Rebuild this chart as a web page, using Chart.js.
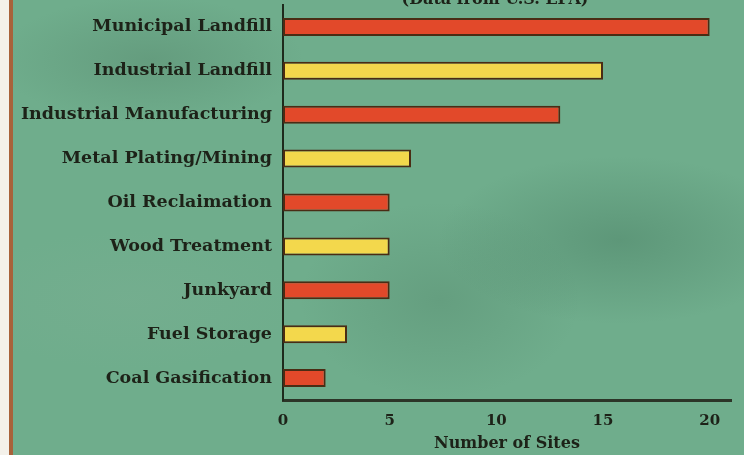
<!DOCTYPE html>
<html>
<head>
<meta charset="utf-8">
<script src="https://cdn.jsdelivr.net/npm/chart.js@4/dist/chart.umd.min.js"></script>
<style>
  html, body { margin: 0; padding: 0; }
  body {
    width: 744px; height: 455px; overflow: hidden; position: relative;
    background-color: #6fad8c;
    background-image:
      radial-gradient(ellipse 220px 90px at 150px 60px, rgba(80,125,100,0.35), rgba(80,125,100,0) 70%),
      radial-gradient(ellipse 260px 120px at 620px 240px, rgba(60,110,85,0.35), rgba(60,110,85,0) 70%),
      radial-gradient(ellipse 200px 140px at 440px 300px, rgba(70,115,90,0.25), rgba(70,115,90,0) 70%),
      radial-gradient(ellipse 240px 100px at 130px 300px, rgba(130,175,150,0.25), rgba(130,175,150,0) 70%);
  }
  #edge { position: absolute; left: 0; top: 0; width: 9px; height: 455px; background: #f4f1ea; }
  #stripe { position: absolute; left: 9px; top: 0; width: 4px; height: 455px; background: #a8623a; }
  #wrap { position: absolute; left: 0; top: 0; width: 744px; height: 455px; }
  #sitesChart { display: block; width: 744px; height: 455px; }
</style>
</head>
<body>
<div id="edge"></div>
<div id="stripe"></div>
<div id="wrap"><canvas id="sitesChart" width="744" height="455"></canvas></div>
<script>
// data
var siteTypes = ["Municipal Landfill", "Industrial Landfill", "Industrial Manufacturing",
                 "Metal Plating/Mining", "Oil Reclaimation", "Wood Treatment",
                 "Junkyard", "Fuel Storage", "Coal Gasification"];
var siteCounts = [20, 15, 13, 6, 5, 5, 5, 3, 2];
var xTicks = [0, 5, 10, 15, 20];
var sourceNote = "(Data from U.S. EPA)";
var axisTitle = "Number of Sites";

var red = "#e2492a";
var yellow = "#f3d84c";
var barColors = siteCounts.map(function(v, i) { return i % 2 == 0 ? red : yellow; });

var fontFamily = "'DejaVu Serif', 'Liberation Serif', serif";
var ink = "#1d2218";

// source note sits at the very top, half cut off
var notePlugin = {
  id: "note",
  afterDraw: function(chart) {
    var ctx = chart.ctx;
    ctx.save();
    ctx.font = "bold 16px " + fontFamily;
    ctx.fillStyle = ink;
    ctx.textAlign = "center";
    ctx.textBaseline = "alphabetic";
    ctx.fillText(sourceNote, 495, 4);
    ctx.restore();
  }
};

var sitesChart = new Chart(document.getElementById("sitesChart"), {
  type: "bar",
  data: {
    labels: siteTypes,
    datasets: [{
      data: siteCounts,
      backgroundColor: barColors,
      borderColor: "#4a2c14",
      borderWidth: 2,
      borderSkipped: false,
      barPercentage: 0.41,
      categoryPercentage: 1
    }]
  },
  options: {
    indexAxis: "y",
    responsive: false,
    maintainAspectRatio: false,
    animation: false,
    layout: { padding: { top: 5, right: 13, left: 0, bottom: 0 } },
    plugins: {
      legend: { display: false },
      tooltip: { enabled: false }
    },
    scales: {
      x: {
        min: 0,
        max: 21,
        afterBuildTicks: function(axis) {
          axis.ticks = xTicks.map(function(v) { return { value: v }; });
        },
        afterFit: function(axis) { axis.height = 55; },
        grid: { display: false, drawTicks: true, tickLength: 4, tickColor: "#333c30" },
        border: { display: true, color: "#2c3528", width: 3 },
        ticks: {
          color: ink,
          padding: 8,
          font: { family: fontFamily, size: 15, weight: "bold" }
        },
        title: {
          display: true,
          text: axisTitle,
          color: ink,
          padding: { top: 0, bottom: 2 },
          font: { family: fontFamily, size: 16, weight: "bold" }
        }
      },
      y: {
        afterFit: function(axis) {
          axis.width = 283;
          // no extra room for the first and last label
          axis.paddingTop = 0;
          axis.paddingBottom = 0;
        },
        grid: { display: false, drawTicks: false },
        border: { display: true, color: "#1e2a1c", width: 2 },
        ticks: {
          color: ink,
          padding: 11,
          font: { family: fontFamily, size: 17.5, weight: "bold" }
        }
      }
    }
  },
  plugins: [notePlugin]
});
</script>
</body>
</html>
